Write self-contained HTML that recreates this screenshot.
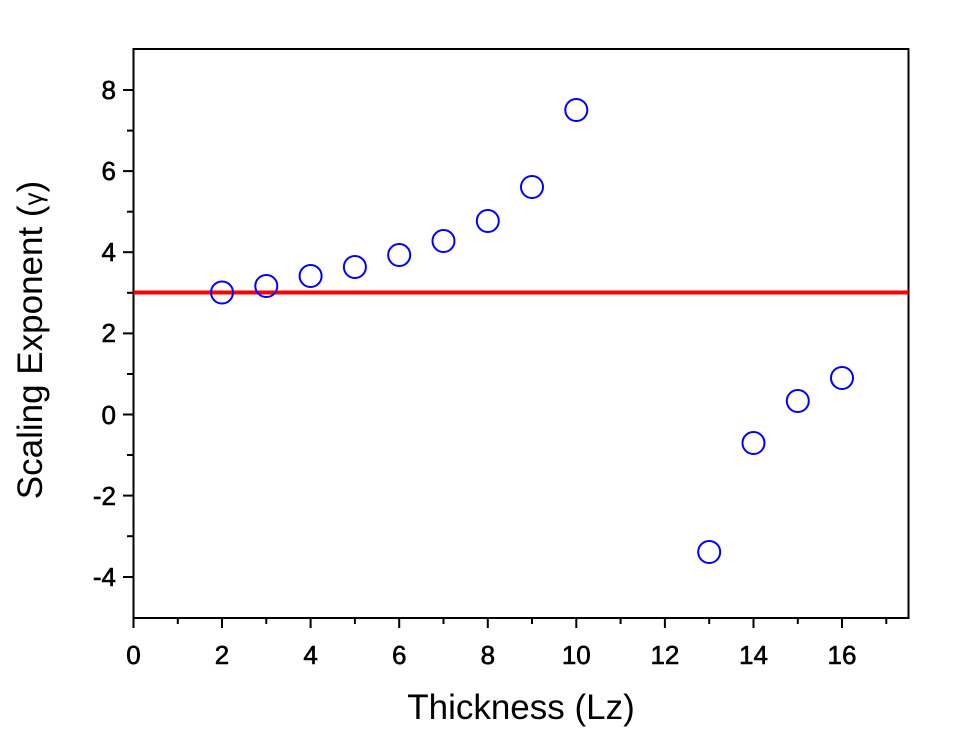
<!DOCTYPE html>
<html><head><style>body{margin:0;background:#fff}svg{display:block}text{font-family:"Liberation Sans",sans-serif;fill:#000}</style></head><body>
<svg width="963" height="735" viewBox="0 0 963 735">
<rect x="133.5" y="49" width="775" height="569" fill="none" stroke="#000" stroke-width="2"/>
<g stroke="#000" stroke-width="2">
<line x1="133.5" y1="618" x2="133.5" y2="628"/><line x1="177.8" y1="618" x2="177.8" y2="624"/>
<line x1="222" y1="618" x2="222" y2="628"/><line x1="266.3" y1="618" x2="266.3" y2="624"/>
<line x1="310.6" y1="618" x2="310.6" y2="628"/><line x1="354.9" y1="618" x2="354.9" y2="624"/>
<line x1="399.2" y1="618" x2="399.2" y2="628"/><line x1="443.5" y1="618" x2="443.5" y2="624"/>
<line x1="487.8" y1="618" x2="487.8" y2="628"/><line x1="532" y1="618" x2="532" y2="624"/>
<line x1="576.3" y1="618" x2="576.3" y2="628"/><line x1="620.6" y1="618" x2="620.6" y2="624"/>
<line x1="664.9" y1="618" x2="664.9" y2="628"/><line x1="709.2" y1="618" x2="709.2" y2="624"/>
<line x1="753.5" y1="618" x2="753.5" y2="628"/><line x1="797.8" y1="618" x2="797.8" y2="624"/>
<line x1="842" y1="618" x2="842" y2="628"/><line x1="886.3" y1="618" x2="886.3" y2="624"/>
<line x1="123" y1="90" x2="133.5" y2="90"/><line x1="127" y1="130.6" x2="133.5" y2="130.6"/>
<line x1="123" y1="171.1" x2="133.5" y2="171.1"/><line x1="127" y1="211.7" x2="133.5" y2="211.7"/>
<line x1="123" y1="252.2" x2="133.5" y2="252.2"/><line x1="127" y1="292.8" x2="133.5" y2="292.8"/>
<line x1="123" y1="333.4" x2="133.5" y2="333.4"/><line x1="127" y1="374" x2="133.5" y2="374"/>
<line x1="123" y1="414.5" x2="133.5" y2="414.5"/><line x1="127" y1="455" x2="133.5" y2="455"/>
<line x1="123" y1="495.6" x2="133.5" y2="495.6"/><line x1="127" y1="536.2" x2="133.5" y2="536.2"/>
<line x1="123" y1="577" x2="133.5" y2="577"/>
</g>
<g font-size="26" text-anchor="middle" stroke="#000" stroke-width="0.6">
<text x="133.5" y="664">0</text><text x="222" y="664">2</text><text x="310.6" y="664">4</text><text x="399.2" y="664">6</text><text x="487.8" y="664">8</text><text x="576.3" y="664">10</text><text x="664.9" y="664">12</text><text x="753.5" y="664">14</text><text x="842" y="664">16</text>
</g>
<g font-size="26" text-anchor="end" stroke="#000" stroke-width="0.6">
<text x="116" y="99">8</text><text x="116" y="180">6</text><text x="116" y="261">4</text><text x="116" y="342">2</text><text x="116" y="424">0</text><text x="116" y="505">-2</text><text x="116" y="586">-4</text>
</g>
<text x="521" y="719" font-size="35" text-anchor="middle">Thickness (Lz)</text>
<text transform="translate(42,340) rotate(-90)" font-size="35" text-anchor="middle">Scaling Exponent  (<tspan font-size="26">γ</tspan>)</text>
<line x1="133.5" y1="292.5" x2="908.5" y2="292.5" stroke="#f00" stroke-width="4"/>
<g fill="none" stroke="#00f" stroke-width="2">
<circle cx="222" cy="292.5" r="11"/><circle cx="266.3" cy="286" r="11"/><circle cx="310.6" cy="276" r="11"/>
<circle cx="354.9" cy="267" r="11"/><circle cx="399.2" cy="255" r="11"/><circle cx="443.5" cy="241" r="11"/>
<circle cx="487.8" cy="221" r="11"/><circle cx="532" cy="187" r="11"/><circle cx="576.3" cy="110" r="11"/>
<circle cx="709.2" cy="552" r="11"/><circle cx="753.5" cy="443" r="11"/><circle cx="797.8" cy="401" r="11"/>
<circle cx="842" cy="378" r="11"/>
</g>
</svg>
</body></html>
